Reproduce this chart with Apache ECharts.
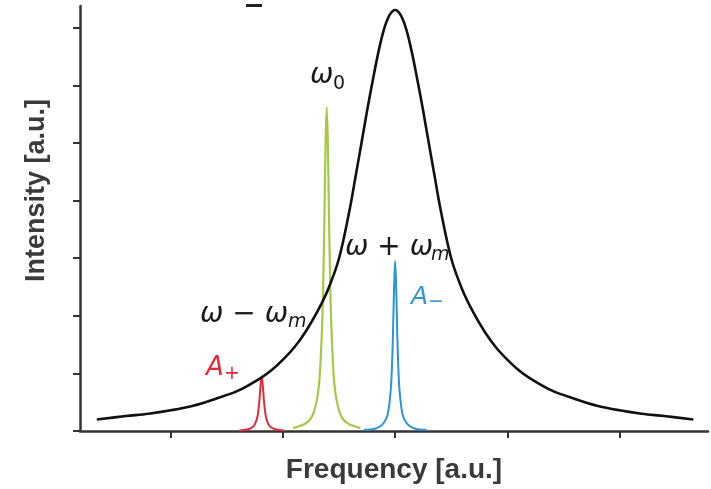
<!DOCTYPE html>
<html>
<head>
<meta charset="utf-8">
<script src="https://cdn.jsdelivr.net/npm/echarts@6/dist/echarts.min.js"></script>
<style>html,body{margin:0;padding:0;background:#fff}#c{width:711px;height:489px}</style>
</head>
<body>
<div id="c"></div>
<script>
// ---- data ----
const xTicks = [1, 2, 3, 4, 5];
const yTicks = [0, 1, 2, 3, 4, 5, 6, 7];

const blackX = [0.34,0.6,0.8,1.0,1.2,1.4,1.6,1.8,1.9,2.0,2.1,2.2,2.3,2.4,2.5,2.6,2.65,2.7,2.75,2.8,2.85,2.9,2.95,3.0,3.05,3.1,3.15,3.2,3.25,3.3,3.35,3.4,3.5,3.6,3.7,3.8,3.9,4.0,4.1,4.2,4.4,4.6,4.8,5.0,5.2,5.4,5.66];
const blackY = [0.20,0.26,0.30,0.36,0.44,0.56,0.70,0.92,1.06,1.24,1.45,1.72,2.05,2.45,3.00,3.90,4.45,5.00,5.56,6.08,6.57,6.97,7.22,7.31,7.22,6.97,6.57,6.08,5.56,5.00,4.45,3.90,3.00,2.45,2.05,1.72,1.45,1.24,1.06,0.92,0.70,0.56,0.44,0.36,0.30,0.26,0.20];

const greenX = [2.09,2.21,2.27,2.31,2.33,2.35,2.36,2.37,2.38,2.39,2.40,2.41,2.42,2.43,2.45,2.47,2.51,2.57,2.69];
const greenY = [0.05,0.14,0.30,0.63,1.03,1.89,2.67,3.77,5.01,5.62,5.01,3.77,2.67,1.89,1.03,0.63,0.30,0.14,0.05];

const blueX = [2.72,2.82,2.88,2.92,2.94,2.96,2.97,2.98,2.99,3.0,3.01,3.02,3.03,3.04,3.06,3.08,3.12,3.18,3.28];
const blueY = [0.02,0.04,0.10,0.21,0.35,0.69,1.03,1.62,2.45,2.95,2.45,1.62,1.03,0.69,0.35,0.21,0.10,0.04,0.02];

const redX = [1.61,1.69,1.73,1.75,1.77,1.78,1.79,1.80,1.81,1.82,1.83,1.84,1.85,1.87,1.89,1.93,2.01];
const redY = [0.01,0.03,0.07,0.12,0.23,0.35,0.53,0.79,0.94,0.79,0.53,0.35,0.23,0.12,0.07,0.03,0.01];

const xName = 'Frequency [a.u.]';
const yName = 'Intensity [a.u.]';

// ---- chart ----
const pairs = (xs, ys) => xs.map((x, i) => [x, ys[i]]);
const chart = echarts.init(document.getElementById('c'), null, {renderer: 'canvas'});
const axisCol = '#333333';
const nameStyle = {color: '#3a3a3a', fontFamily: '"Liberation Sans", Arial, sans-serif', fontWeight: 'bold', fontSize: 28};
const mathFont = 'italic 28px "DejaVu Sans", sans-serif';

function line(xs, ys, color, w, z) {
  return {type: 'line', data: pairs(xs, ys), smooth: 0.35, showSymbol: false, symbol: 'none',
    lineStyle: {color: color, width: w}, z: z, animation: false, silent: true};
}

chart.setOption({
  animation: false,
  grid: {left: 80, right: 3, top: 6, bottom: 57},
  xAxis: {
    type: 'value', min: 0.19, max: 5.79,
    name: xName, nameLocation: 'middle', nameGap: 25, nameTextStyle: nameStyle,
    axisLine: {show: true, lineStyle: {color: axisCol, width: 2.5}},
    axisTick: {show: true, customValues: xTicks, length: 7, lineStyle: {color: axisCol, width: 2}},
    axisLabel: {show: false}, splitLine: {show: false}
  },
  yAxis: {
    type: 'value', min: 0, max: 7.38,
    name: yName, nameLocation: 'middle', nameGap: 30, nameRotate: 90,
    nameTextStyle: Object.assign({}, nameStyle, {fontSize: 27, padding: [0, 0, 0, 56]}),
    axisLine: {show: true, lineStyle: {color: axisCol, width: 2.5}},
    axisTick: {show: true, customValues: yTicks, length: 7, lineStyle: {color: axisCol, width: 2}},
    axisLabel: {show: false}, splitLine: {show: false}
  },
  series: [
    line(redX, redY, '#e3293b', 2, 2),
    line(greenX, greenY, '#a6c845', 2.2, 2),
    line(blueX, blueY, '#2b95d4', 2, 2),
    line(blackX, blackY, '#111111', 2.6, 3)
  ],
  graphic: [
    {type: 'rect', shape: {x: 246, y: 4, width: 16, height: 3}, style: {fill: '#222'}},
    {type: 'text', x: 310, y: 76, style: {text: 'ω', font: mathFont, fill: '#1a1a1a', verticalAlign: 'middle'}},
    {type: 'text', x: 333, y: 84, style: {text: '0', font: '19px "DejaVu Sans", sans-serif', fill: '#1a1a1a', verticalAlign: 'middle'}},
    {type: 'text', x: 200, y: 315, style: {text: 'ω − ω', font: mathFont, fill: '#1a1a1a', verticalAlign: 'middle'}},
    {type: 'text', x: 288, y: 322, style: {text: 'm', font: 'italic 19px "DejaVu Sans", sans-serif', fill: '#1a1a1a', verticalAlign: 'middle'}},
    {type: 'text', x: 345, y: 248, style: {text: 'ω + ω', font: mathFont, fill: '#1a1a1a', verticalAlign: 'middle'}},
    {type: 'text', x: 431, y: 255, style: {text: 'm', font: 'italic 19px "DejaVu Sans", sans-serif', fill: '#1a1a1a', verticalAlign: 'middle'}},
    {type: 'text', x: 206, y: 368, style: {text: 'A', font: 'italic 26px "DejaVu Sans", sans-serif', fill: '#e3293b', verticalAlign: 'middle'}},
    {type: 'text', x: 224, y: 374, style: {text: '+', font: '19px "DejaVu Sans", sans-serif', fill: '#e3293b', verticalAlign: 'middle'}},
    {type: 'text', x: 411, y: 297, style: {text: 'A', font: 'italic 25px "DejaVu Sans", sans-serif', fill: '#3196d6', verticalAlign: 'middle'}},
    {type: 'text', x: 428, y: 302, style: {text: '−', font: '19px "DejaVu Sans", sans-serif', fill: '#3196d6', verticalAlign: 'middle'}}
  ]
});
</script>
</body>
</html>
